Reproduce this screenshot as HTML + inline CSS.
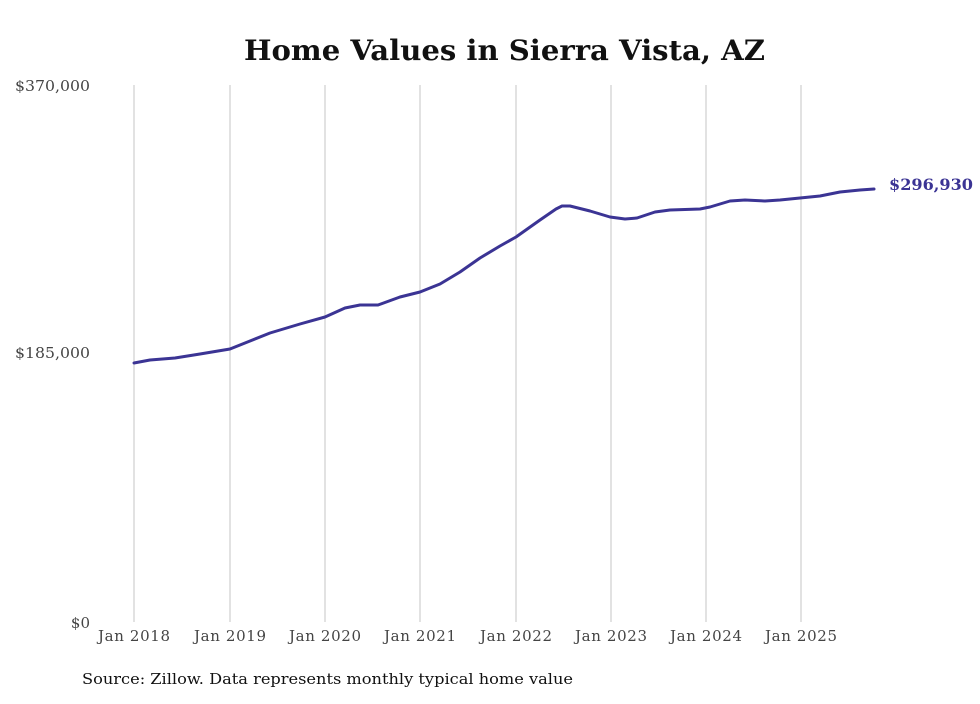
<!DOCTYPE html>
<html><head><meta charset="utf-8"><style>
html,body{margin:0;padding:0;background:#fff;}
svg text{font-family:"DejaVu Serif","Liberation Serif",serif;}
</style></head><body>
<svg width="980" height="699" viewBox="0 0 980 699" xmlns="http://www.w3.org/2000/svg">
<rect width="980" height="699" fill="#fff"/>
<text x="244" y="60" font-size="28" font-weight="bold" fill="#111" textLength="521" lengthAdjust="spacingAndGlyphs">Home Values in Sierra Vista, AZ</text>
<g stroke="#c4c4c4" stroke-width="1">
<line x1="134" y1="85" x2="134" y2="622"/><line x1="230" y1="85" x2="230" y2="622"/>
<line x1="325" y1="85" x2="325" y2="622"/><line x1="420" y1="85" x2="420" y2="622"/>
<line x1="516" y1="85" x2="516" y2="622"/><line x1="611" y1="85" x2="611" y2="622"/>
<line x1="706" y1="85" x2="706" y2="622"/><line x1="801" y1="85" x2="801" y2="622"/>
</g>
<g font-size="15" fill="#444">
<text x="15" y="91" textLength="75" lengthAdjust="spacingAndGlyphs">$370,000</text>
<text x="15" y="358" textLength="75" lengthAdjust="spacingAndGlyphs">$185,000</text>
<text x="90" y="628" text-anchor="end">$0</text>
<text x="98" y="641" textLength="72">Jan 2018</text><text x="194" y="641" textLength="72">Jan 2019</text>
<text x="289" y="641" textLength="72">Jan 2020</text><text x="384" y="641" textLength="72">Jan 2021</text>
<text x="480" y="641" textLength="72">Jan 2022</text><text x="575" y="641" textLength="72">Jan 2023</text>
<text x="670" y="641" textLength="72">Jan 2024</text><text x="765" y="641" textLength="72">Jan 2025</text>
</g>
<polyline fill="none" stroke="#3b3494" stroke-width="3" stroke-linejoin="round" stroke-linecap="round" points="134,363 150,360 175,358 200,354 230,349 250,341 270,333 300,324 325,317 345,308 360,305 378,305 400,297 420,292 440,284 460,272 480,258 500,246 516,237 540,220 556,209 562,206 570,206 590,211 610,217 625,219 637,218 655,212 670,210 700,209 710,207 730,201 745,200 765,201 780,200 800,198 820,196 840,192 860,190 874,189"/>
<text x="889" y="190" font-size="16" font-weight="bold" fill="#3b3494" textLength="84" lengthAdjust="spacingAndGlyphs">$296,930</text>
<text x="82" y="684" font-size="15" fill="#111" textLength="491" lengthAdjust="spacingAndGlyphs">Source: Zillow. Data represents monthly typical home value</text>
</svg>
</body></html>
